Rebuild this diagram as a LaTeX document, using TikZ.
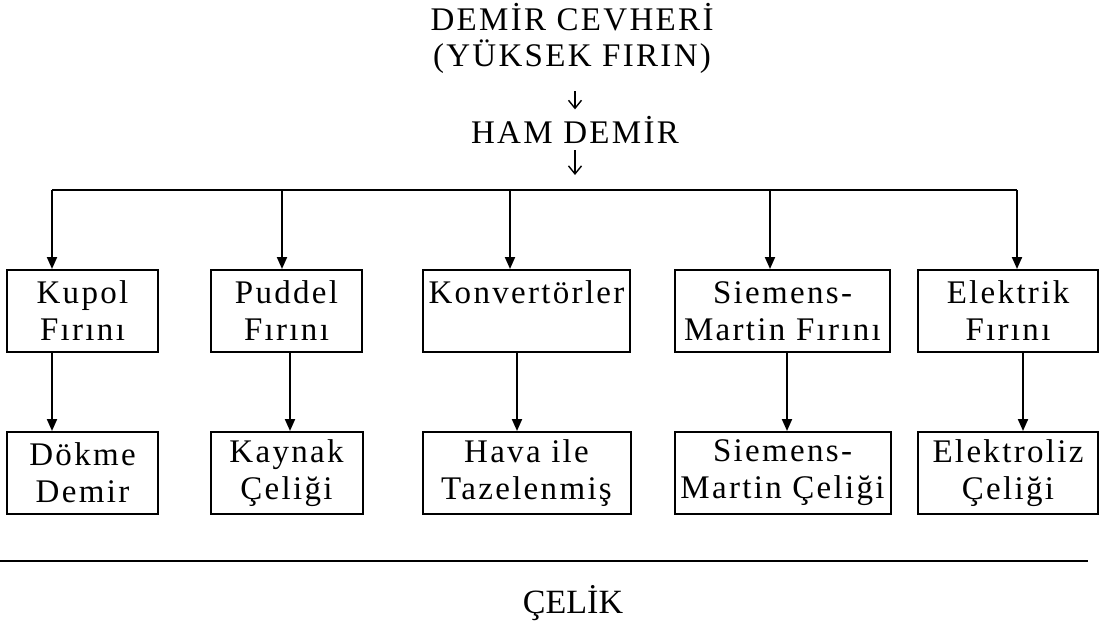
\documentclass[tikz,border=0pt]{standalone}
\usepackage{fontspec}
\setmainfont{Liberation Serif}
\newfontfamily\spacedfont[LetterSpace=7]{Liberation Serif}
\usetikzlibrary{arrows.meta}
\tikzset{
  box/.style={draw, line width=1pt, align=center, minimum height=41pt, inner sep=1pt,
    font=\spacedfont\fontsize{16.5pt}{18.5pt}\selectfont},
  heading/.style={align=center, inner sep=0pt, font=\spacedfont\fontsize{16.5pt}{18pt}\selectfont},
  drop/.style={line width=1pt, -{Triangle[length=6pt,width=5pt]}},
  flow/.style={line width=0.7pt, -{Straight Barb[length=4pt,width=6.5pt]}},
  rule/.style={line width=1pt}
}
\begin{document}
\begin{tikzpicture}[x=0.5pt, y=-0.5pt, node distance=81pt]
        \useasboundingbox (0,0) rectangle (1103,622);
        \node (cevher) [heading, anchor=base] at (572,66) {DEMİR CEVHERİ\\(YÜKSEK FIRIN)};
        \node (ham) [heading, anchor=base] at (575,143) {HAM DEMİR};

        \node (kupol) [box, minimum width=75.5pt] at (82.5,311) {Kupol\\Fırını};
        \node (puddel) [box, minimum width=75.5pt] at (286.5,311) {Puddel\\Fırını};
        \node (konv) [box, minimum width=103.5pt] at (526.5,311) {Konvertörler\\~};
        \node (sm) [box, minimum width=107.5pt] at (782.5,311) {Siemens-\\Martin Fırını};
        \node (elek) [box, minimum width=90pt] at (1008,311) {Elektrik\\Fırını};

        \node (dokme) [box, minimum width=75.5pt, below of=kupol] {Dökme\\Demir};
        \node (kaynak) [box, minimum width=76pt, below of=puddel] {Kaynak\\Çeliği};
        \node (hava) [box, minimum width=104pt, below of=konv] {Hava ile\\Tazelenmiş};
        \node (smcelik) [box, minimum width=108pt, below of=sm] {Siemens-\\Martin Çeliği};
        \node (elektroliz) [box, minimum width=90pt, below of=elek] {Elektroliz\\Çeliği};

        \node (celik) [anchor=base, font=\fontsize{17pt}{18pt}\selectfont] at (573,613) {ÇELİK};

        \coordinate (busL) at (52,190);
        \coordinate (busR) at (1017,190);
        \coordinate (lineL) at (0,561);
        \coordinate (lineR) at (1088,561);

        \draw[flow, shorten <=9pt, shorten >=3pt] (ham.north |- cevher.south) -- (ham.north);
        \draw[flow, shorten <=3.5pt, shorten >=7.5pt] (ham.south) -- (ham.south |- busL);
        \draw[rule] (busL) -- (busR);
        \foreach \n/\x in {kupol/52, puddel/282, konv/510, sm/770, elek/1017}
          \draw[drop] (\x,0 |- busL) -- (\x,0 |- \n.north);
        \foreach \a/\b/\x in {kupol/dokme/52, puddel/kaynak/290, konv/hava/517, sm/smcelik/787, elek/elektroliz/1023}
          \draw[drop] (\x,0 |- \a.south) -- (\x,0 |- \b.north);
        \draw[rule] (lineL) -- (lineR);
\end{tikzpicture}
\end{document}
